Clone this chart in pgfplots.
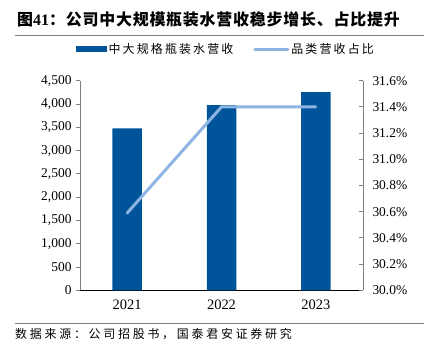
\documentclass[border=0pt]{standalone}
\usepackage{pgfplots}
\pgfplotsset{compat=1.18}
\usepackage{fontspec}
\setmainfont{Liberation Serif}
\newfontfamily\cjk{Noto Sans CJK SC}
\newfontfamily\cjkt[LetterSpace=5]{Noto Sans CJK SC}
\newfontfamily\cjkls[LetterSpace=18]{Noto Sans CJK SC}
\newfontfamily\cjksrc[LetterSpace=23]{Noto Sans CJK SC}
\definecolor{barblue}{RGB}{0,84,153}
\definecolor{lineblue}{RGB}{141,180,226}
\definecolor{axgray}{RGB}{128,128,128}
\begin{document}
\begin{tikzpicture}[x=1bp,y=1bp]
\useasboundingbox (0,0) rectangle (424,356);
% title
\node[anchor=base west,inner sep=0pt] at (17,331) {\fontsize{16}{18}\selectfont\cjkt\bfseries 图{\rmfamily\bfseries 41}：公司中大规模瓶装水营收稳步增长、占比提升};
\draw[axgray,line width=0.8bp] (15,321) -- (424,321);
\draw[axgray,line width=0.8bp] (15,33) -- (424,33);
\node[anchor=base west,inner sep=0pt] at (15,18) {\fontsize{12}{14}\selectfont\cjksrc 数据来源：公司招股书，国泰君安证券研究};

\begin{axis}[
  at={(80bp,65.7bp)}, anchor=south west,
  scale only axis, width=283bp, height=209.6bp,
  xmin=-0.5, xmax=2.5, ymin=0, ymax=4500,
  axis x line*=bottom, axis y line*=left,
  x axis line style={black, line width=0.8bp, -},
  y axis line style={axgray, line width=0.8bp, -},
  xtick=data, xticklabels={2021,2022,2023},
  xtick style={draw=none},
  ytick={0,500,...,4500},
  ytick style={axgray, line width=0.8bp},
  tick align=outside, major tick length=4bp,
  /pgf/number format/assume math mode=true,
  /pgf/number format/.cd, 1000 sep={,}, /pgfplots/.cd,
  ticklabel style={font=\fontsize{13.5}{15}\selectfont},
  xticklabel style={font=\fontsize{14.5}{16}\selectfont, yshift=-2bp},
  yticklabel style={xshift=-1bp},
]
\addplot[ybar, bar width=29.5bp, fill=barblue, draw=none] coordinates {(0,3475) (1,3975) (2,4255)};
\end{axis}

\begin{axis}[
  at={(80bp,65.7bp)}, anchor=south west,
  scale only axis, width=283bp, height=209.6bp,
  xmin=-0.5, xmax=2.5, ymin=30.0, ymax=31.6,
  axis x line=none, axis y line*=right,
  y axis line style={axgray, line width=0.8bp, -},
  ytick={30.0,30.2,...,31.61},
  ytick style={axgray, line width=0.8bp},
  tick align=inside, major tick length=4bp,
  /pgf/number format/assume math mode=true,
  yticklabel={\pgfmathprintnumber[fixed,fixed zerofill,precision=1]{\tick}\%},
  ticklabel style={font=\fontsize{13.5}{15}\selectfont},
  yticklabel style={xshift=6bp},
  legend style={at={(0.516,1.151)}, anchor=center, draw=none, fill=none,
    legend columns=2, font=\fontsize{12}{14}\selectfont\cjkls,
    /tikz/every even column/.append style={column sep=18bp}},
]
\addlegendimage{legend image code/.code={\fill[barblue] (0bp,-2.5bp) rectangle (30bp,2.5bp);}}
\addlegendentry{中大规格瓶装水营收}
\addplot[lineblue, line width=3bp, line cap=round, line join=round, mark=none,
  legend image code/.code={\draw[lineblue,line width=3bp,line cap=round] (0bp,0bp) -- (33bp,0bp);}]
  coordinates {(0,30.59) (1,31.40) (2,31.40)};
\addlegendentry{品类营收占比}
\end{axis}
\end{tikzpicture}
\end{document}
